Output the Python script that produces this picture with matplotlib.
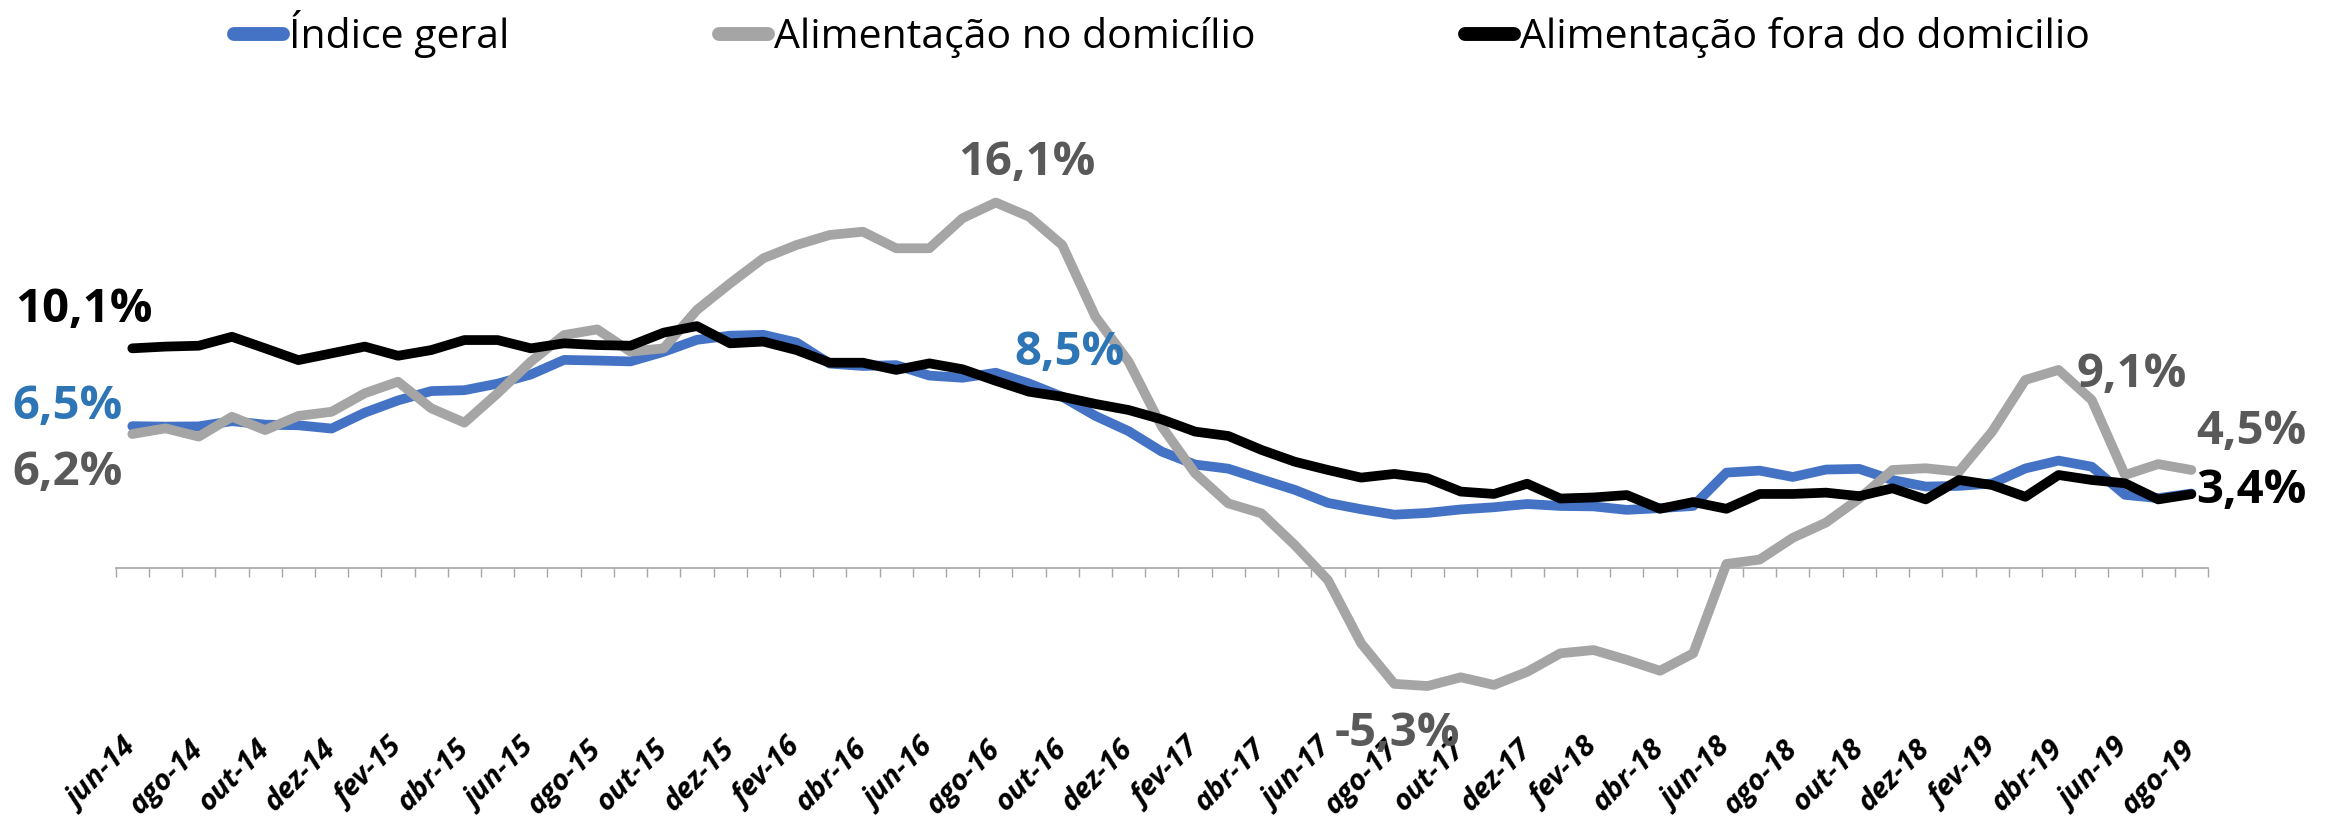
import matplotlib
matplotlib.use('Agg')
import matplotlib.pyplot as plt
from matplotlib.lines import Line2D
import numpy as np

categories = [
    'jun-14', 'jul-14', 'ago-14', 'set-14', 'out-14', 'nov-14', 'dez-14',
    'jan-15', 'fev-15', 'mar-15', 'abr-15', 'mai-15', 'jun-15', 'jul-15', 'ago-15', 'set-15', 'out-15', 'nov-15', 'dez-15',
    'jan-16', 'fev-16', 'mar-16', 'abr-16', 'mai-16', 'jun-16', 'jul-16', 'ago-16', 'set-16', 'out-16', 'nov-16', 'dez-16',
    'jan-17', 'fev-17', 'mar-17', 'abr-17', 'mai-17', 'jun-17', 'jul-17', 'ago-17', 'set-17', 'out-17', 'nov-17', 'dez-17',
    'jan-18', 'fev-18', 'mar-18', 'abr-18', 'mai-18', 'jun-18', 'jul-18', 'ago-18', 'set-18', 'out-18', 'nov-18', 'dez-18',
    'jan-19', 'fev-19', 'mar-19', 'abr-19', 'mai-19', 'jun-19', 'jul-19', 'ago-19',
]

indice_geral = [
    6.52, 6.50, 6.51, 6.75, 6.59, 6.56, 6.41,
    7.14, 7.70, 8.13, 8.17, 8.47, 8.89, 9.56, 9.53, 9.49, 9.93, 10.48, 10.67,
    10.71, 10.36, 9.39, 9.28, 9.32, 8.84, 8.74, 8.97, 8.48, 7.87, 6.99, 6.29,
    5.35, 4.76, 4.57, 4.08, 3.60, 3.00, 2.71, 2.46, 2.54, 2.70, 2.80, 2.95,
    2.86, 2.84, 2.68, 2.76, 2.86, 4.39, 4.48, 4.19, 4.53, 4.56, 4.05, 3.75,
    3.78, 3.89, 4.58, 4.94, 4.66, 3.37, 3.22, 3.43,
]

alim_domicilio = [
    6.16, 6.42, 6.04, 6.95, 6.34, 6.99, 7.18,
    8.03, 8.56, 7.34, 6.68, 8.03, 9.48, 10.70, 10.96, 9.94, 10.09, 11.85, 13.07,
    14.22, 14.83, 15.29, 15.44, 14.68, 14.68, 16.06, 16.78, 16.13, 14.83, 11.54, 9.48,
    6.50, 4.36, 2.98, 2.52, 1.07, -0.54, -3.44, -5.30, -5.40, -5.00, -5.35, -4.75,
    -3.90, -3.75, -4.20, -4.70, -3.90, 0.20, 0.40, 1.40, 2.10, 3.20, 4.51, 4.59,
    4.43, 6.27, 8.64, 9.10, 7.72, 4.28, 4.78, 4.51,
]

alim_fora = [
    10.09, 10.17, 10.21, 10.62, 10.09, 9.55, 9.86,
    10.17, 9.75, 10.01, 10.47, 10.47, 10.09, 10.32, 10.24, 10.21, 10.81, 11.11, 10.32,
    10.40, 10.01, 9.43, 9.43, 9.10, 9.40, 9.13, 8.60, 8.10, 7.87, 7.54, 7.26,
    6.83, 6.27, 6.07, 5.43, 4.89, 4.51, 4.16, 4.33, 4.13, 3.52, 3.41, 3.88,
    3.20, 3.25, 3.36, 2.73, 3.04, 2.73, 3.41, 3.41, 3.47, 3.31, 3.67, 3.16,
    4.05, 3.82, 3.28, 4.28, 4.05, 3.90, 3.16, 3.40,
]

series_names = ['Índice geral', 'Alimentação no domicílio', 'Alimentação fora do domicilio']
series_colors = ['#4472C4', '#A5A5A5', '#000000']

# data labels: (series index, point index, text, color, dx pt, dy pt, ha)
labels = [
    (2, 0, '10,1%', '#000000', 14.4, 28.0, 'right'),
    (0, 0, '6,5%', '#2E75B6', -7.2, 14.5, 'right'),
    (1, 0, '6,2%', '#595959', -7.2, -27.5, 'right'),
    (1, 26, '16,1%', '#595959', 22.3, 28.5, 'center'),
    (0, 27, '8,5%', '#2E75B6', 29.5, 22.0, 'center'),
    (1, 38, '-5,3%', '#595959', 2.0, -35.5, 'center'),
    (1, 58, '9,1%', '#595959', 13.0, -3.5, 'left'),
    (1, 62, '4,5%', '#595959', 3.6, 28.0, 'left'),
    (2, 62, '3,4%', '#000000', 3.6, 2.5, 'left'),
]

plt.rcParams['font.family'] = ['Open Sans', 'DejaVu Sans']

W, H = 2338, 825
fig = plt.figure(figsize=(W / 100, H / 100), dpi=100)
ax_left, ax_right = 115.7 / W, 2208.0 / W
ax_top_px, ax_bot_px = 120.0, 700.0
ax = fig.add_axes([ax_left, 1 - ax_bot_px / H, ax_right - ax_left, (ax_bot_px - ax_top_px) / H])

n = len(categories)
x = np.arange(n)
data = [indice_geral, alim_domicilio, alim_fora]
for vals, col, z in zip(data, series_colors, [2, 3, 4]):
    ax.plot(x, vals, color=col, lw=7.0, solid_capstyle='round', solid_joinstyle='round', zorder=z, clip_on=False)

ax.set_xlim(-0.5, n - 0.5)
zero_px = 568.3
px_per_unit = 21.8
ax.set_ylim((zero_px - ax_bot_px) / px_per_unit, (zero_px - ax_top_px) / px_per_unit)

for s in ['top', 'right', 'left']:
    ax.spines[s].set_visible(False)
ax.spines['bottom'].set_position(('data', 0))
ax.spines['bottom'].set_color('#A6A6A6')
ax.spines['bottom'].set_linewidth(1.2)
ax.set_yticks([])

ax.set_xticks(x[::2])
ax.set_xticklabels(categories[::2], rotation=45, ha='right', va='center', rotation_mode='anchor',
                   fontsize=21, fontweight='bold', fontstyle='italic', color='#000000')
ax.set_xticks(np.arange(n + 1) - 0.5, minor=True)
ax.tick_params(axis='x', which='major', length=0, pad=127)
ax.tick_params(axis='x', which='minor', length=6.5, width=1.0, color='#A6A6A6', direction='out')

for si, pi, txt, col, dx, dy, ha in labels:
    ax.annotate(txt, xy=(x[pi], data[si][pi]), xytext=(dx, dy), textcoords='offset points',
                ha=ha, va='center', fontsize=34, fontweight='bold', color=col, zorder=6,
                annotation_clip=False)

handles = [Line2D([0], [0], color=c, lw=10, solid_capstyle='round') for c in series_colors]
fig.legend(handles, series_names, loc='center', bbox_to_anchor=(0.497, 1 - 34 / H), ncol=3,
           frameon=False, fontsize=29.5, handlelength=1.2, handletextpad=0.15, columnspacing=5.1,
           borderaxespad=0)

fig.savefig('out.png', dpi=100)
